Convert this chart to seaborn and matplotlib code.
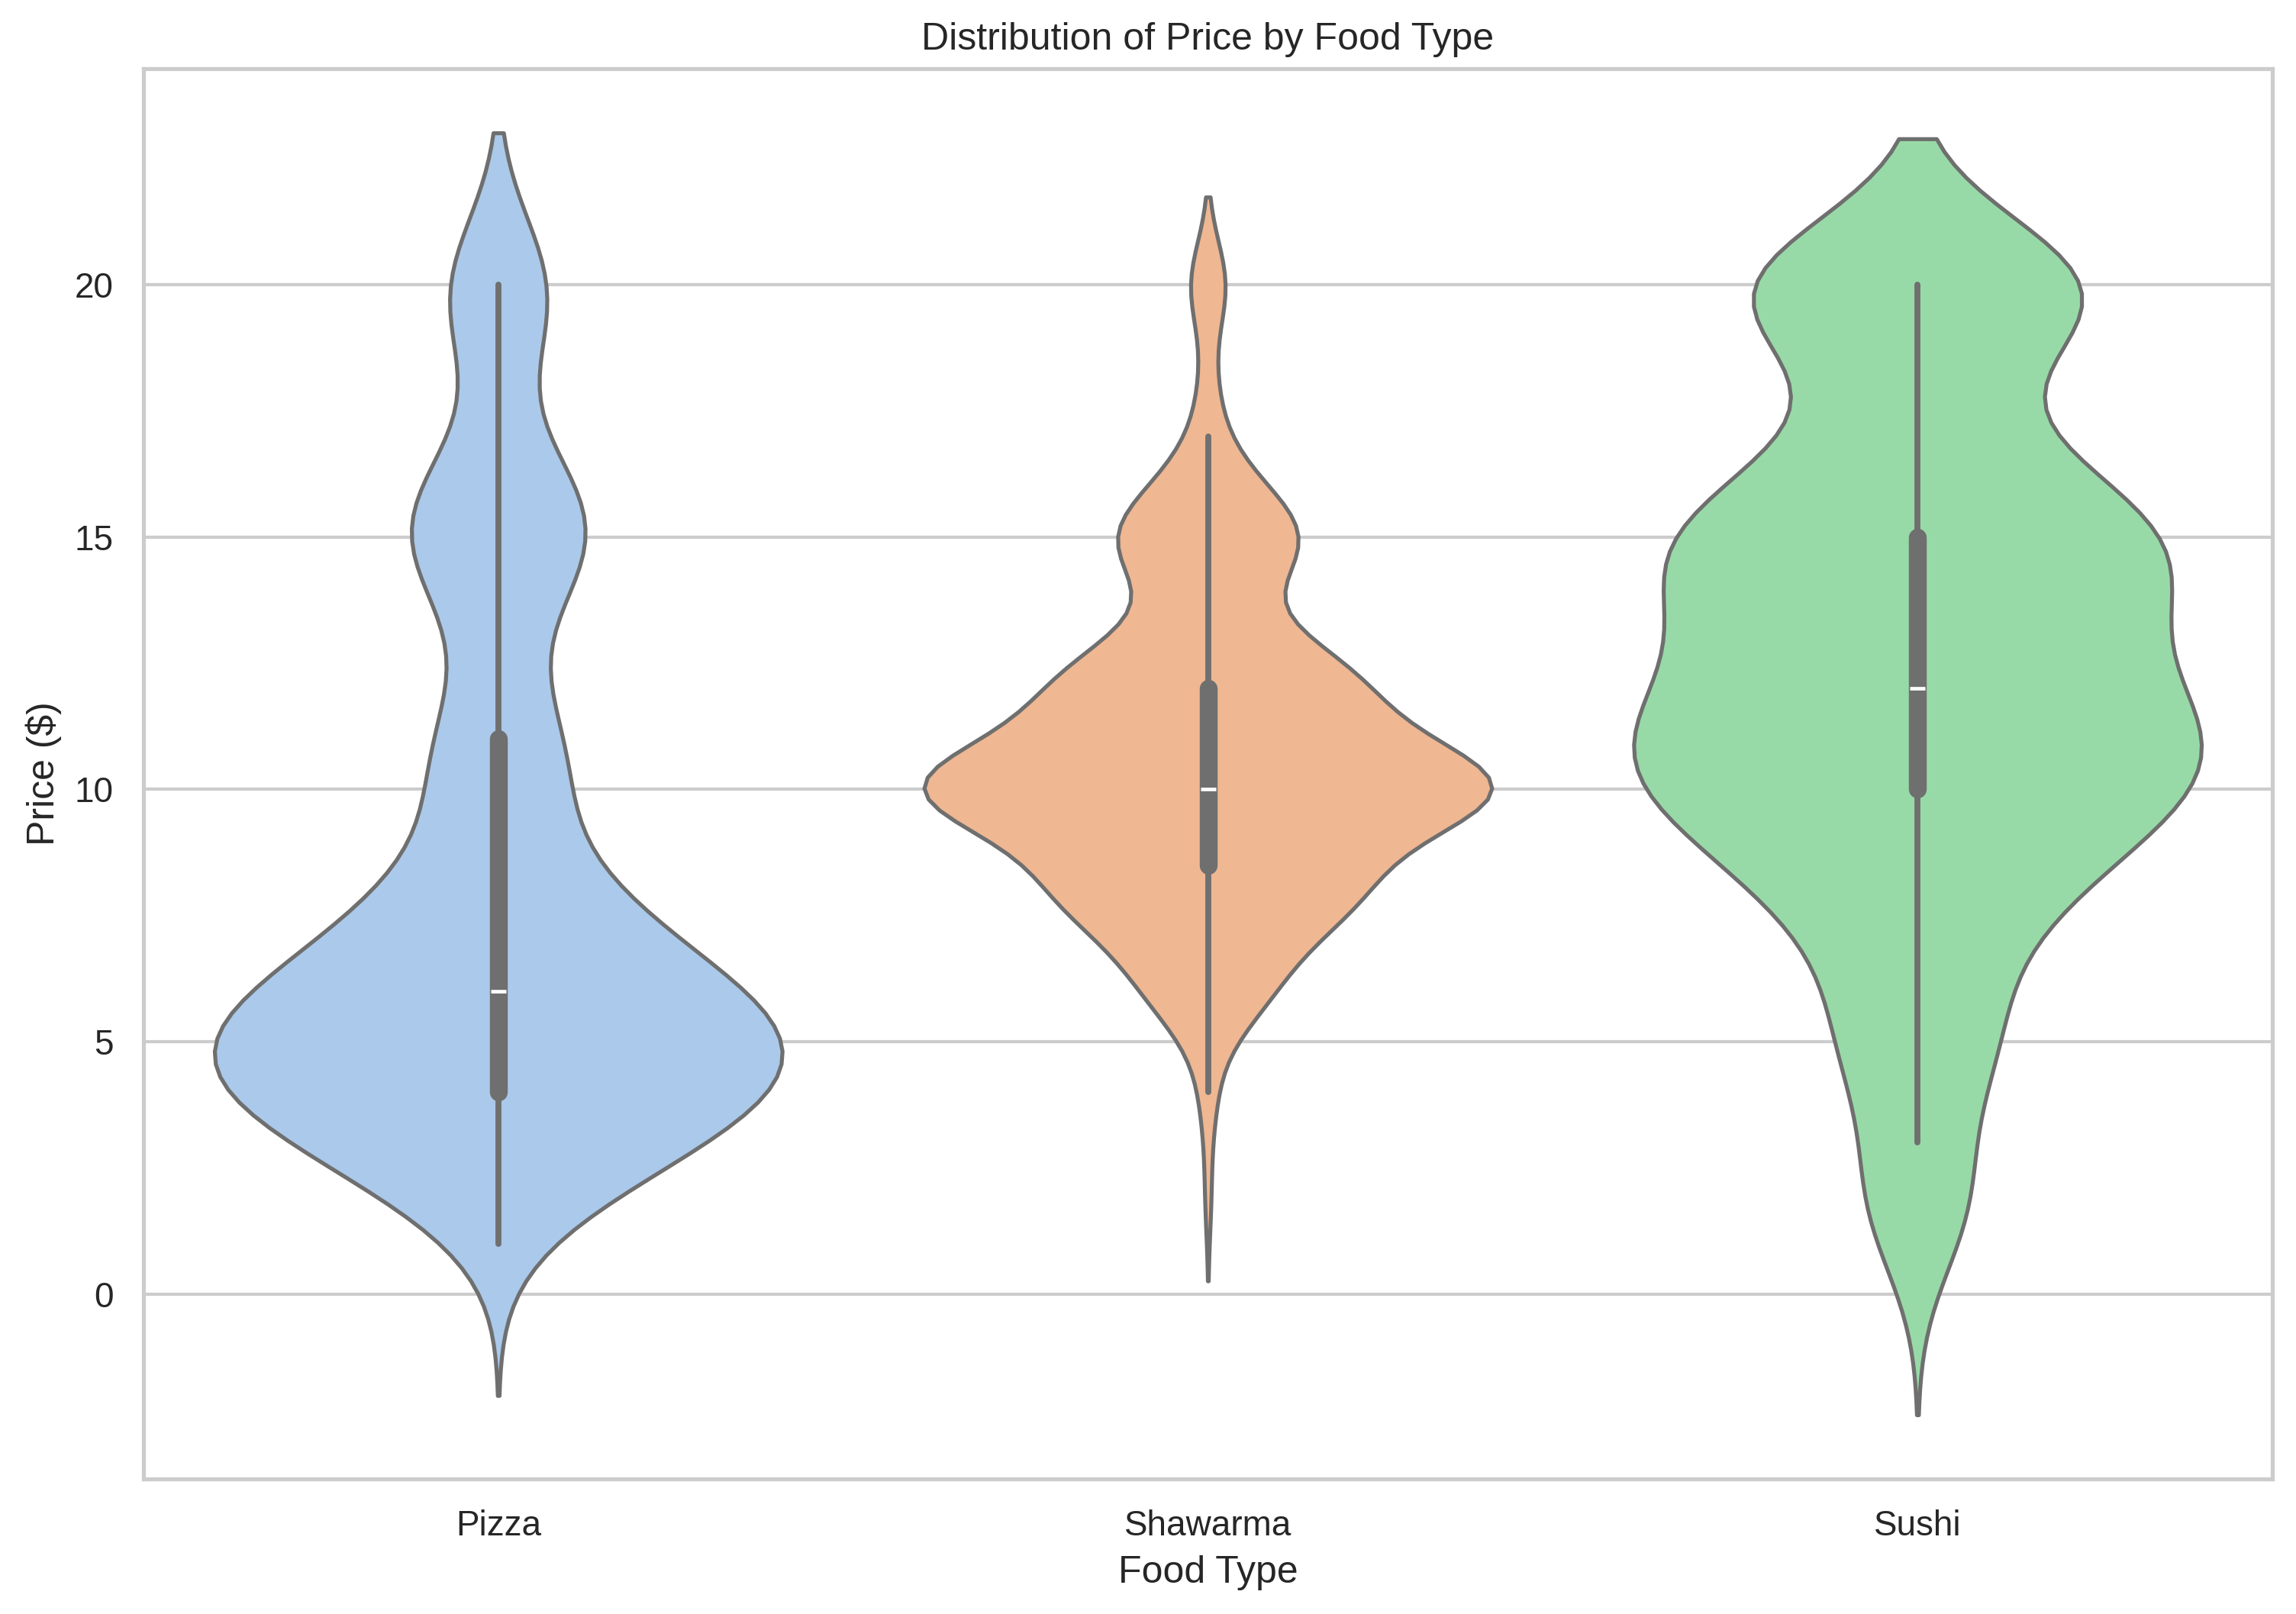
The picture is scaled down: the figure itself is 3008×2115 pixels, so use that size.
import numpy as np
import pandas as pd
import matplotlib
matplotlib.use("Agg")
import matplotlib.pyplot as plt
import seaborn as sns

# -------------------------
# Data: price levels and how many menu items sit at each level
# -------------------------
food_types = ["Pizza", "Shawarma", "Sushi"]

pizza_prices = [1, 2.5, 3, 3.5, 4, 4.5, 5, 5.5, 6, 6.5, 7, 7.5, 8, 8.5, 10, 10.5, 11,
                13.5, 14, 14.5, 15, 15.5, 16, 19.5, 20]
pizza_counts = [1, 30, 38, 8, 48, 11, 81, 27, 24, 8, 16, 30, 14, 1, 2, 27, 16,
                2, 8, 11, 17, 27, 9, 15, 23]

shawarma_prices = [2, 4, 5.5, 6, 6.5, 7, 7.5, 8, 8.5, 9, 9.5, 10, 10.5, 11, 11.5, 12, 12.5,
                   13, 13.5, 14, 14.5, 15, 15.5, 16, 16.5, 17, 17.5, 18, 20]
shawarma_counts = [2, 5, 6, 23, 7, 9, 29, 39, 22, 15, 44, 89, 49, 20, 15, 47, 23,
                   16, 1, 1, 22, 28, 9, 13, 2, 2, 2, 3, 12]

sushi_prices = [0.5, 1.5, 2, 3, 4, 4.5, 5, 5.5, 6, 6.5, 7, 7.5, 8, 8.5, 9, 10, 10.5,
                11, 11.5, 12, 12.5, 13, 13.5, 14, 14.5, 15, 15.5, 16, 16.5, 17, 17.5,
                18, 18.5, 19, 19.5, 20]
sushi_counts = [1, 6, 13, 1, 1, 8, 13, 5, 2, 2, 5, 10, 11, 11, 18, 35, 28,
                12, 19, 20, 13, 11, 10, 12, 20, 43, 2, 13, 9, 6, 4,
                1, 1, 2, 12, 57]


def build_frame():
    parts = []
    for name, prices, counts in [
        ("Pizza", pizza_prices, pizza_counts),
        ("Shawarma", shawarma_prices, shawarma_counts),
        ("Sushi", sushi_prices, sushi_counts),
    ]:
        values = np.repeat(prices, counts)
        parts.append(pd.DataFrame({"Food Type": name, "Price": values}))
    return pd.concat(parts, ignore_index=True)


df = build_frame()

# -------------------------
# Plot
# -------------------------
sns.set_theme(style="whitegrid")
plt.rcParams["font.family"] = ["Liberation Sans", "DejaVu Sans"]

fig, ax = plt.subplots(figsize=(3008 / 300, 2115 / 300), dpi=300)
sns.violinplot(data=df, x="Food Type", y="Price", hue="Food Type",
               order=food_types, hue_order=food_types, palette="pastel",
               density_norm="width", legend=False, ax=ax)

ax.set_title("Distribution of Price by Food Type")
ax.set_xlabel("Food Type")
ax.set_ylabel("Price ($)")

fig.subplots_adjust(left=0.0625, right=0.9897, bottom=0.0837, top=0.9574)
fig.savefig("out.png", dpi=300)
